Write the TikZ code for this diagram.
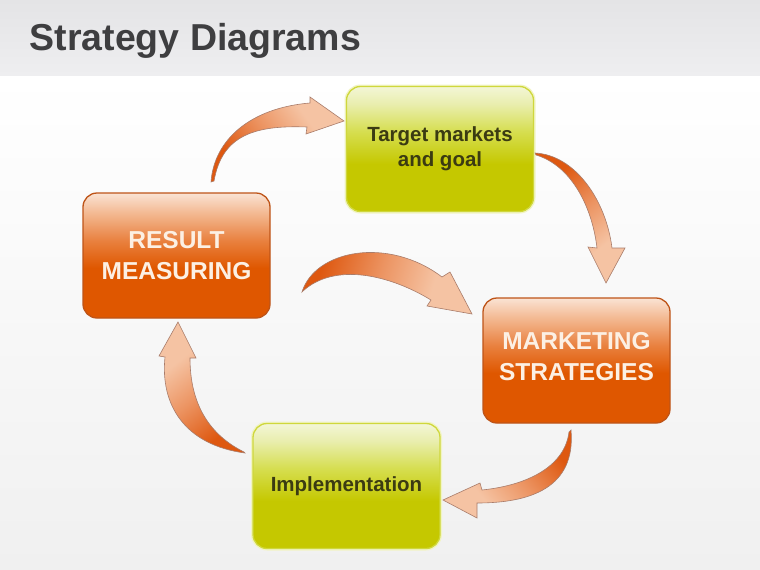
\documentclass[tikz,border=0pt]{standalone}
\usepackage{fontspec}
\setmainfont{Liberation Sans}
\definecolor{adark}{HTML}{DE5810}
\definecolor{amid}{HTML}{EC9462}
\definecolor{alight}{HTML}{F5C3A3}
\definecolor{aline}{HTML}{A97C6A}
\definecolor{obot}{HTML}{DF5700}
\definecolor{omid}{HTML}{E9813F}
\definecolor{olt}{HTML}{F4BE9A}
\definecolor{otop}{HTML}{FAE3D4}
\definecolor{oline}{HTML}{BE5418}
\definecolor{otext}{HTML}{FCF0E4}
\definecolor{gbot}{HTML}{C5C800}
\definecolor{gmid}{HTML}{D6DE50}
\definecolor{glt}{HTML}{E9EEAE}
\definecolor{gtop}{HTML}{F3F6D6}
\definecolor{gline}{HTML}{CFD73C}
\definecolor{gglow}{HTML}{F1F4C4}
\definecolor{gtext}{HTML}{3B3B12}
\definecolor{titlec}{HTML}{3E3E40}
\definecolor{bandtop}{HTML}{E4E4E6}
\definecolor{bandbot}{HTML}{EEEEF0}
\definecolor{pagebot}{HTML}{F0F0F0}
\pgfdeclarehorizontalshading{arrsh}{100bp}{color(0bp)=(adark); color(28bp)=(adark); color(48bp)=(amid); color(66bp)=(alight); color(100bp)=(alight)}
\pgfdeclareverticalshading{orsh}{100bp}{color(0bp)=(obot); color(45bp)=(obot); color(56bp)=(omid); color(68bp)=(olt); color(75bp)=(otop); color(100bp)=(otop)}
\pgfdeclareverticalshading{grsh}{100bp}{color(0bp)=(gbot); color(44bp)=(gbot); color(57bp)=(gmid); color(68bp)=(glt); color(75bp)=(gtop); color(100bp)=(gtop)}
\tikzset{
  box/.style={rectangle, rounded corners=14pt, minimum width=187pt, minimum height=125pt, line width=1.3pt, align=center, inner sep=0pt},
  orangebox/.style={box, shading=orsh, draw=oline, text=otext, font=\fontsize{24.5}{30.5}\selectfont\bfseries},
  greenbox/.style={box, shading=grsh, draw=gline, text=gtext, font=\fontsize{20.5}{25}\selectfont\bfseries, preaction={draw=gglow, line width=4pt}},
  curvearrow/.style={draw=aline, line width=0.6pt, shading=arrsh},
}
\begin{document}
\begin{tikzpicture}[x=1pt,y=-1pt]
\useasboundingbox (0,0) rectangle (760,570);
% background
\shade[top color=white, bottom color=pagebot] (0,75) rectangle (760,570);
\shade[top color=bandtop, bottom color=bandbot] (0,0) rectangle (760,75);
\node[anchor=base west, font=\fontsize{37.5}{45}\selectfont\bfseries, text=titlec, inner sep=0pt] (title) at (29.5,50) {Strategy Diagrams};
% boxes
\node[greenbox] (target) at (440,149) {Target markets\\and goal};
\node[orangebox] (result) at (176.5,255.5) {RESULT\\MEASURING};
\node[orangebox] (marketing) at (576.5,360.5) {MARKETING\\STRATEGIES\\[-22pt]\mbox{}};
\node[greenbox] (impl) at (346.5,486) {Implementation};
% arrows
\shadedraw[curvearrow, shading angle=36] (211,182) .. controls (214,140) and (250,108) .. (310,103) -- (310,97) -- (344,121) -- (306,134) -- (307,127) .. controls (255,125) and (222,135) .. (214,181) -- cycle;
\shadedraw[curvearrow, shading angle=-52] (535,153) .. controls (575,155) and (606,200) .. (612,248) -- (625,248) -- (606,283) -- (588,247) -- (597,248) .. controls (592,205) and (570,165) .. (536,155) -- cycle;
\shadedraw[curvearrow, shading angle=-17] (302,292) .. controls (315,250) and (388,236) .. (442,277) -- (450,272) -- (472,314) -- (427,306) -- (431,300) .. controls (390,275) and (335,262) .. (303,291) -- cycle;
\shadedraw[curvearrow, shading angle=220] (571,430) .. controls (576,488) and (530,503) .. (477,503) -- (477,518) -- (443,500) -- (480,483) -- (482,490) .. controls (530,485) and (565,465) .. (569,432) -- cycle;
\shadedraw[curvearrow, shading angle=128] (245,453) .. controls (185,445) and (160,405) .. (165,357) -- (159,356) -- (178,322) -- (196,358) -- (190,358) .. controls (190,405) and (210,435) .. (244,452) -- cycle;
\end{tikzpicture}
\end{document}
